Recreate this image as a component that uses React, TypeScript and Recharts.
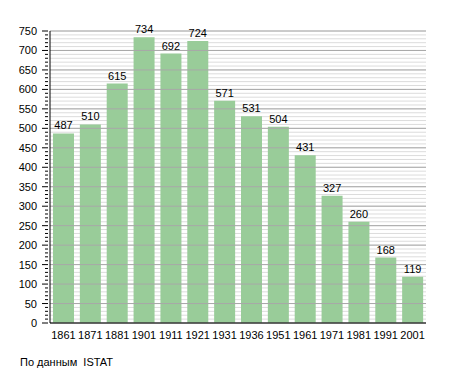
import React from "react";
import { BarChart, Bar, XAxis, YAxis, CartesianGrid, ReferenceLine, LabelList } from "recharts";

const years = ["1861", "1871", "1881", "1901", "1911", "1921", "1931", "1936", "1951", "1961", "1971", "1981", "1991", "2001"];
const population = [487, 510, 615, 734, 692, 724, 571, 531, 504, 431, 327, 260, 168, 119];
const majorTicks = [0, 50, 100, 150, 200, 250, 300, 350, 400, 450, 500, 550, 600, 650, 700, 750];
const minorStep = 10;

const data = years.map((year, i) => ({ year, value: population[i] }));
const allTicks = Array.from({ length: 750 / minorStep + 1 }, (_, i) => i * minorStep);

const font = "'Liberation Sans', Arial, sans-serif";

const YTick = (props: any) => {
  const { x, y, payload } = props;
  const major = payload.value % 50 === 0;
  return (
    <g>
      <line x1={x + 6 - (major ? 6 : 3)} x2={x + 6} y1={y} y2={y} stroke="#000" strokeWidth={1} />
      {major && (
        <text x={x - 5} y={y} dy={4} textAnchor="end" fontSize={11} fill="#000" fontFamily={font}>
          {payload.value}
        </text>
      )}
    </g>
  );
};

export default function App() {
  return (
    <div style={{ position: "absolute", left: 0, top: 0, width: 455, height: 373, background: "#fff", fontFamily: font }}>
      <BarChart
        width={455}
        height={373}
        data={data}
        margin={{ top: 31, right: 29, left: 10, bottom: 30 }}
        barCategoryGap={3}
      >
        <CartesianGrid vertical={false} stroke="#dcdcdc" strokeWidth={1} />
        {majorTicks.map((t) => (
          <ReferenceLine key={t} y={t} stroke="#a8a8a8" strokeWidth={1} />
        ))}
        <XAxis
          dataKey="year"
          tickLine={false}
          axisLine={{ stroke: "#000" }}
          tick={{ fontSize: 11, fill: "#000", fontFamily: font }}
          interval={0}
          height={20}
          tickMargin={2}
        />
        <YAxis
          domain={[0, 750]}
          ticks={allTicks}
          interval={0}
          tickLine={false}
          axisLine={{ stroke: "#000" }}
          tick={<YTick />}
          width={40}
        />
        <Bar dataKey="value" fill="#99cc99" isAnimationActive={false}>
          <LabelList dataKey="value" position="top" offset={4} fontSize={11} fill="#000" fontFamily={font} />
        </Bar>
      </BarChart>
      <div style={{ position: "absolute", left: 20, top: 356, fontSize: 11, color: "#000" }}>
        По данным&nbsp;&nbsp;ISTAT
      </div>
    </div>
  );
}
